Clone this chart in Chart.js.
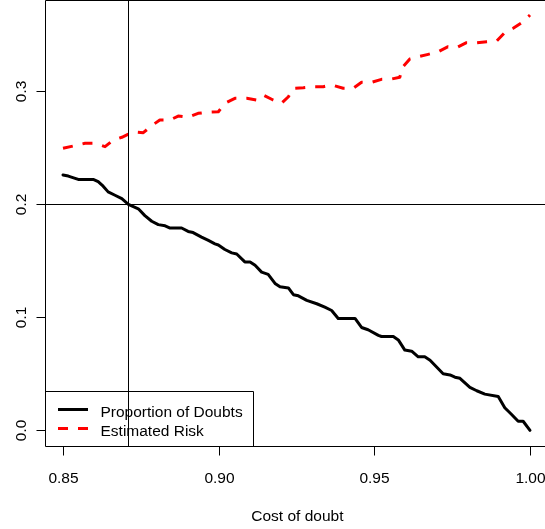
<!DOCTYPE html>
<html>
<head>
<meta charset="utf-8">
<script src="https://cdn.jsdelivr.net/npm/chart.js@4/dist/chart.umd.min.js"></script>
<style>
  html, body { margin: 0; padding: 0; background: #fff; }
  canvas { display: block; }
</style>
</head>
<body>
<canvas id="c" width="545" height="529" style="width:545px;height:529px"></canvas>
<script>
// Cost of doubt (x) and proportion of doubts (y)
const propCost = [
  0.8500, 0.8517, 0.8539, 0.8549, 0.8597, 0.8613, 0.8629, 0.8645, 0.8667, 0.8689,
  0.8710, 0.8726, 0.8742, 0.8763, 0.8785, 0.8806, 0.8828, 0.8844, 0.8881, 0.8902,
  0.8918, 0.8945, 0.8967, 0.8988, 0.8999, 0.9020, 0.9042, 0.9058, 0.9084, 0.9101,
  0.9117, 0.9138, 0.9159, 0.9181, 0.9197, 0.9224, 0.9240, 0.9256, 0.9283, 0.9315,
  0.9341, 0.9363, 0.9384, 0.9438, 0.9459, 0.9480, 0.9513, 0.9523, 0.9561, 0.9577,
  0.9598, 0.9620, 0.9641, 0.9662, 0.9679, 0.9721, 0.9743, 0.9759, 0.9775, 0.9807,
  0.9829, 0.9855, 0.9898, 0.9919, 0.9941, 0.9962, 0.9978, 1.0000
];
const propDoubts = [
  0.226, 0.225, 0.223, 0.222, 0.222, 0.220, 0.216, 0.211, 0.208, 0.205,
  0.200, 0.198, 0.196, 0.190, 0.185, 0.182, 0.181, 0.179, 0.179, 0.176,
  0.175, 0.171, 0.168, 0.165, 0.164, 0.160, 0.157, 0.156, 0.149, 0.149,
  0.146, 0.140, 0.138, 0.130, 0.127, 0.126, 0.120, 0.119, 0.115, 0.112,
  0.109, 0.106, 0.099, 0.099, 0.091, 0.089, 0.084, 0.083, 0.083, 0.080,
  0.071, 0.070, 0.065, 0.065, 0.062, 0.050, 0.049, 0.047, 0.046, 0.038,
  0.035, 0.032, 0.030, 0.020, 0.014, 0.008, 0.008, 0.000
];

// Cost of doubt (x) and estimated risk (y)
const riskCost = [
  0.8500, 0.8533, 0.8571, 0.8603, 0.8635, 0.8662, 0.8689, 0.8726, 0.8758, 0.8785,
  0.8811, 0.8844, 0.8870, 0.8902, 0.8934, 0.8961, 0.8999, 0.9020, 0.9052, 0.9090,
  0.9122, 0.9143, 0.9175, 0.9202, 0.9224, 0.9240, 0.9272, 0.9304, 0.9336, 0.9363,
  0.9400, 0.9432, 0.9459, 0.9491, 0.9523, 0.9556, 0.9582, 0.9588, 0.9614, 0.9641,
  0.9673, 0.9705, 0.9737, 0.9764, 0.9796, 0.9829, 0.9861, 0.9893, 0.9919, 0.9946,
  0.9978, 1.0000
];
const estRisk = [
  0.2496, 0.2516, 0.2540, 0.2540, 0.2510, 0.2569, 0.2593, 0.2642, 0.2634, 0.2696,
  0.2746, 0.2746, 0.2781, 0.2770, 0.2805, 0.2814, 0.2819, 0.2894, 0.2938, 0.2938,
  0.2923, 0.2967, 0.2923, 0.2894, 0.2952, 0.3027, 0.3032, 0.3041, 0.3041, 0.3056,
  0.3027, 0.3027, 0.3080, 0.3080, 0.3106, 0.3109, 0.3124, 0.3204, 0.3286, 0.3306,
  0.3327, 0.3350, 0.3395, 0.3386, 0.3430, 0.3430, 0.3439, 0.3445, 0.3519, 0.3558,
  0.3616, 0.3675
];

const xTicks = [0.85, 0.90, 0.95, 1.00];
const xTickLabels = ["0.85", "0.90", "0.95", "1.00"];
const yTicks = [0.0, 0.1, 0.2, 0.3];
const yTickLabels = ["0.0", "0.1", "0.2", "0.3"];

const chosenCost = 0.871;   // vertical reference line
const targetDoubts = 0.2;   // horizontal reference line

const seriesNames = ["Proportion of Doubts", "Estimated Risk"];
const xTitle = "Cost of doubt";

const FONT = '15.5px "Liberation Sans", Arial, sans-serif';
const INK = '#000';

function pairs(xs, ys) { return xs.map((v, i) => ({ x: v, y: ys[i] })); }

// Base-graphics style frame: box, outward ticks, rotated y labels, reference lines, legend
const basePlot = {
  id: 'basePlot',
  afterDatasetsDraw(chart) {
    const { ctx, chartArea: a, scales: { x, y } } = chart;
    ctx.save();
    ctx.strokeStyle = INK;
    ctx.lineWidth = 1;
    ctx.setLineDash([]);

    // reference lines
    const vx = Math.round(x.getPixelForValue(chosenCost)) + 0.5;
    const hy = Math.round(y.getPixelForValue(targetDoubts)) + 0.5;
    ctx.beginPath();
    ctx.moveTo(vx, a.top); ctx.lineTo(vx, a.bottom);
    ctx.moveTo(a.left, hy); ctx.lineTo(a.right, hy);
    ctx.stroke();

    // plot box
    const L = a.left + 0.5, B = a.bottom + 0.5, T = a.top + 0.5;
    ctx.beginPath();
    ctx.moveTo(a.right, T); ctx.lineTo(L, T); ctx.lineTo(L, B); ctx.lineTo(a.right, B);
    ctx.stroke();

    ctx.fillStyle = INK;
    ctx.font = FONT;

    // x axis ticks and labels
    ctx.textAlign = 'center';
    ctx.textBaseline = 'alphabetic';
    xTicks.forEach((v, i) => {
      const px = Math.round(x.getPixelForValue(v)) + 0.5;
      ctx.beginPath(); ctx.moveTo(px, B); ctx.lineTo(px, B + 9); ctx.stroke();
      ctx.fillText(xTickLabels[i], px, 482.5);
    });
    ctx.fillText(xTitle, (a.left + x.getPixelForValue(x.max + 0.0015)) / 2, 520.5);

    // y axis ticks and rotated labels
    yTicks.forEach((v, i) => {
      const py = Math.round(y.getPixelForValue(v)) + 0.5;
      ctx.beginPath(); ctx.moveTo(L, py); ctx.lineTo(L - 9, py); ctx.stroke();
      ctx.save();
      ctx.translate(26, py);
      ctx.rotate(-Math.PI / 2);
      ctx.textAlign = 'center';
      ctx.fillText(yTickLabels[i], 0, 0);
      ctx.restore();
    });

    // legend
    const lgR = 253.5, lgT = 391.5;
    ctx.beginPath();
    ctx.moveTo(L, lgT); ctx.lineTo(lgR, lgT); ctx.lineTo(lgR, B);
    ctx.stroke();

    const ds = chart.data.datasets;
    const rows = [409.5, 428.5];
    const bases = [416.7, 436];
    ds.forEach((d, i) => {
      ctx.save();
      ctx.strokeStyle = d.borderColor;
      ctx.lineWidth = d.borderWidth;
      ctx.lineCap = 'butt';
      ctx.setLineDash(d.borderDash || []);
      ctx.beginPath(); ctx.moveTo(58, rows[i]); ctx.lineTo(88, rows[i]); ctx.stroke();
      ctx.restore();
      ctx.textAlign = 'left';
      ctx.fillText(d.label, 100.5, bases[i]);
    });

    ctx.restore();
  }
};

new Chart(document.getElementById('c'), {
  type: 'line',
  data: {
    datasets: [
      {
        label: seriesNames[0],
        data: pairs(propCost, propDoubts),
        borderColor: '#000000',
        borderWidth: 3,
        borderJoinStyle: 'round',
        borderCapStyle: 'round',
        pointRadius: 0,
        tension: 0,
        fill: false
      },
      {
        label: seriesNames[1],
        data: pairs(riskCost, estRisk),
        borderColor: '#ff0000',
        borderWidth: 3,
        borderDash: [10, 10],
        borderCapStyle: 'butt',
        borderJoinStyle: 'round',
        pointRadius: 0,
        tension: 0,
        fill: false
      }
    ]
  },
  options: {
    responsive: false,
    devicePixelRatio: 1,
    animation: false,
    layout: { padding: { left: 45, right: 0, top: 0, bottom: 83 } },
    plugins: { legend: { display: false }, tooltip: { enabled: false } },
    scales: {
      x: { type: 'linear', display: false, min: 0.84422, max: 1.00482 },
      y: { type: 'linear', display: false, min: -0.01389, max: 0.38080 }
    }
  },
  plugins: [basePlot]
});
</script>
</body>
</html>
